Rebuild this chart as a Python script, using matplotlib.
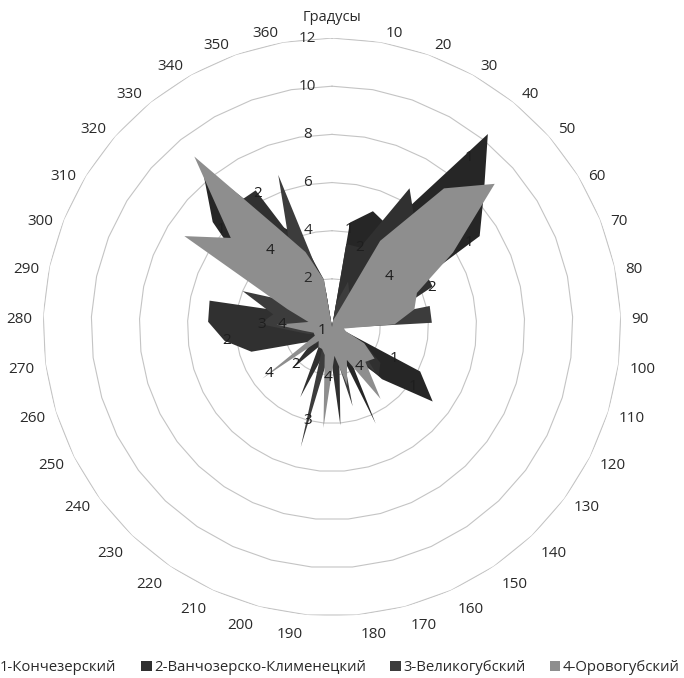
import numpy as np
import matplotlib
matplotlib.use("Agg")
import matplotlib.pyplot as plt
from matplotlib.patches import Patch

plt.rcParams["font.family"] = ["Open Sans", "DejaVu Sans"]

# categories: first one is the header cell, then 10..360 degrees
categories = ["Градусы"] + [str(d) for d in range(10, 361, 10)]

series_names = [
    "1-Кончезерский",
    "2-Ванчозерско-Клименецкий",
    "3-Великогубский",
    "4-Оровогубский",
]

s1 = [0, 4.4, 5.1, 4.8, 10.3, 8.4, 7.2, 2.5, 3.0, 1.0, 0.3, 0.5, 4.1, 5.2, 3.0, 1.0,
      4.4, 0.8, 0.8, 0.8, 0.8, 0.8, 0.5, 1.0, 1.2, 1.0, 1.5, 2.0, 1.5, 2.5, 1.5,
      4.0, 6.6, 8.6, 5.0, 4.0, 2.0]
s2 = [0, 3.5, 3.5, 6.6, 5.5, 5.0, 4.5, 4.5, 2.5, 1.0, 0.3, 0.4, 1.5, 2.5, 2.8, 1.5,
      1.0, 1.2, 4.1, 1.0, 1.0, 3.2, 1.0, 2.4, 1.0, 1.5, 3.5, 4.5, 5.15, 5.2, 1.5,
      3.5, 4.5, 6.5, 6.5, 3.0, 1.5]
s3 = [0, 1.0, 2.0, 1.5, 2.0, 2.0, 1.0, 0.3, 4.15, 4.15, 0.3, 0.4, 1.0, 1.5, 2.6, 1.0,
      1.0, 3.4, 1.0, 1.0, 5.15, 1.0, 0.5, 1.0, 1.0, 0.5, 1.0, 1.5, 3.0, 2.5, 4.0,
      2.0, 2.0, 3.0, 3.5, 6.7, 1.5]
s4 = [0, 0.3, 0.5, 4.1, 7.4, 9.0, 5.9, 3.8, 3.5, 2.6, 0.5, 0.6, 1.5, 2.2, 2.0, 3.6,
      1.5, 2.5, 1.2, 4.2, 1.2, 1.0, 1.0, 0.8, 3.6, 0.8, 0.8, 1.2, 2.3, 1.0, 2.0,
      7.2, 5.6, 9.1, 4.8, 3.3, 2.0]
series = [s1, s2, s3, s4]
colors = ["#262626", "#303030", "#3c3c3c", "#8e8e8e"]

radial_ticks = [2, 4, 6, 8, 10, 12]

# (series number, category index, fraction of value) for the number labels
point_labels = [
    (1, 1, 0.93), (2, 2, 1.0), (1, 4, 0.88), (1, 6, 0.93), (4, 5, 0.35),
    (2, 7, 0.99), (4, 33, 0.45), (2, 34, 0.98), (1, 32, 0.93), (4, 28, 0.9),
    (3, 28, 0.97), (2, 27, 0.98), (1, 26, 0.3), (4, 24, 0.9), (2, 23, 0.9),
    (4, 19, 0.5), (4, 15, 0.55), (1, 13, 0.8), (3, 20, 0.78), (1, 12, 0.7),
]

n = len(categories)
theta = np.arange(n) * 2 * np.pi / n
theta_closed = np.append(theta, theta[0])

fig = plt.figure(figsize=(6.84, 6.78), dpi=100)
ax = fig.add_axes([0.0629, 0.0914, 0.845, 0.8525], projection="polar")
ax.set_theta_zero_location("N")
ax.set_theta_direction(-1)
ax.set_ylim(0, 12)
ax.axis("off")

# polygon gridlines, like excel radar
for r in radial_ticks:
    ax.plot(theta_closed, [r] * (n + 1), color="#c4c4c4", lw=0.8, zorder=1)

for vals, col in zip(series, colors):
    v = np.append(vals, vals[0])
    ax.fill(theta_closed, v, color=col, lw=0, zorder=2)

for r in radial_ticks:
    ax.annotate(str(r), (0, r), xytext=(-17.5, 0), textcoords="offset points",
                ha="center", va="center", fontsize=11, color="#2a2a2a", zorder=3)

# category labels anchored just outside the outer ring, aligned away from centre
for i, (t, lab) in enumerate(zip(theta, categories)):
    s, c = np.sin(t), np.cos(t)
    if s > 0.05:
        ha, dx = "left", 2.9
    elif s < -0.05:
        ha, dx = "right", -2.9
    else:
        ha, dx = "center", 0
    va = "bottom" if c > 0.6 else ("top" if c < -0.6 else "center")
    r_lab = 12.73 if i == 0 else 12.28
    ax.annotate(lab, (t, r_lab), xytext=(dx, -3.6), textcoords="offset points",
                ha=ha, va=va, fontsize=11 if i else 10.5, color="#2a2a2a",
                annotation_clip=False)

for sn, ci, frac in point_labels:
    ax.text(theta[ci], series[sn - 1][ci] * frac, str(sn), ha="center",
            va="center", fontsize=11, color="#1e1e1e", zorder=4)

handles = [Patch(facecolor=c, edgecolor="none") for c in colors]
fig.legend(handles, series_names, ncol=4, loc="lower left",
           bbox_to_anchor=(-0.038, -0.016), frameon=False, fontsize=10.75,
           handlelength=0.7, handleheight=0.7, handletextpad=0.15,
           columnspacing=1.65, labelcolor="#2a2a2a")

fig.savefig("out.png", dpi=100)
